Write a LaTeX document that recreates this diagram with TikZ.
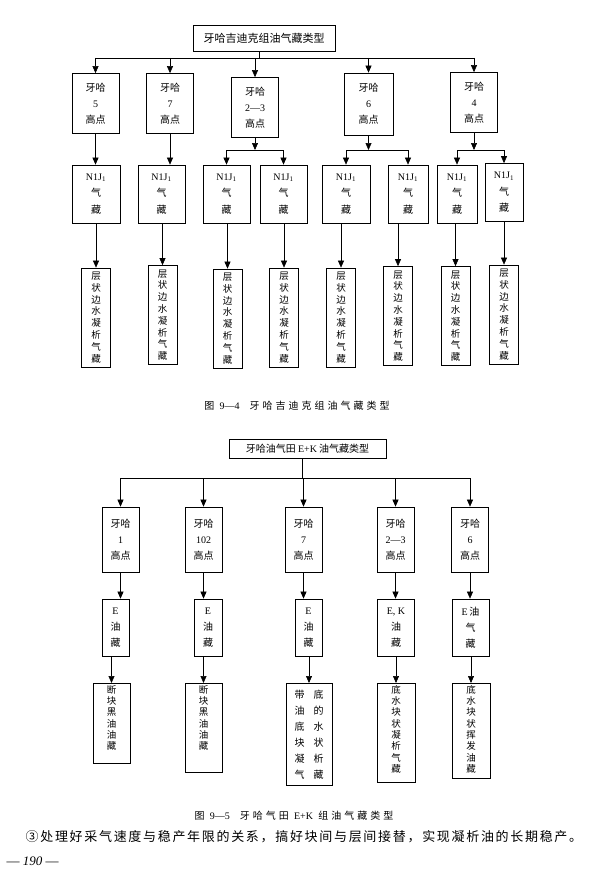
\documentclass[tikz,border=0pt]{standalone}
\usepackage{fontspec}
\setmainfont{Liberation Serif}
\newfontfamily\cjk{Noto Sans CJK SC}
\newfontfamily\cjkwide[LetterSpace=30]{Noto Sans CJK SC}
\newfontfamily\cjkbody[LetterSpace=13]{Noto Sans CJK SC}
\usetikzlibrary{arrows.meta}

\newcommand{\colbox}[3][1.1em]{\parbox[t][#2][t]{#1}{\centering #3}}

\begin{document}
\begin{tikzpicture}[
  x=1pt, y=-1pt, line width=.6pt,
  arr/.style={-{Triangle[width=6pt,length=7pt]}},
  box/.style={draw, line width=.7pt, inner sep=1pt, align=center,
    font=\cjk\fontsize{10}{16}\selectfont},
  high/.style={box, minimum width=47pt, minimum height=60pt},
  gas/.style={box, minimum height=58pt, font=\cjk\fontsize{10}{16.5}\selectfont},
  strip/.style={box, minimum width=29pt, minimum height=99pt,
    font=\cjk\fontsize{9.5}{11.8}\selectfont},
  pool/.style={box, minimum width=37pt, minimum height=65pt},
  oil/.style={box, minimum height=57pt},
  kind/.style={box, anchor=north, inner xsep=0pt, inner ysep=2pt,
    font=\cjk\fontsize{9.5}{11.3}\selectfont}]

  \useasboundingbox (0,0) rectangle (589,883);

  % figure 9-4
  \node[box, minimum width=142pt, minimum height=26pt,
    font=\cjk\fontsize{11}{13}\selectfont] (top) at (264,38) {牙哈吉迪克组油气藏类型};

  \node[high] (h5) at (95.5,103.5) {牙哈\\{\rmfamily 5}\\高点};
  \node[high] (h7) at (170,103.5) {牙哈\\{\rmfamily 7}\\高点};
  \node[high] (h23) at (255,107.5) {牙哈\\{\rmfamily 2—3}\\高点};
  \node[high, minimum width=49pt, minimum height=62pt] (h6) at (368.5,104) {牙哈\\{\rmfamily 6}\\高点};
  \node[high] (h4) at (474,102.5) {牙哈\\{\rmfamily 4}\\高点};

  \foreach \i/\x/\y/\w in {1/96/194/48, 2/161.5/194/47, 3/226.5/194/47, 4/283.5/194/47,
      5/346/194/48, 6/408/194/40, 7/457/194/40, 8/504/192.5/38}
    \node[gas, minimum width=\w pt] (n\i) at (\x,\y) {{\rmfamily N1J\textsubscript{1}}\\气\\藏};

  \foreach \i/\x/\y in {1/96/317.5, 2/162.5/315, 3/227.5/318.5, 4/284/317.5,
      5/341/317.5, 6/398/316, 7/455.5/316, 8/504/314.5}
    \node[strip] (b\i) at (\x,\y) {层\\状\\边\\水\\凝\\析\\气\\藏};

  \coordinate (bus1) at (259,58);
  \coordinate (bar1) at (0,150);
  \draw (bus1 |- top.south) -- (bus1);
  \draw (bus1 -| h5) -- (bus1 -| h4);
  \foreach \n in {h5,h7,h23,h6,h4}
    \draw[arr] (bus1 -| \n) -- (\n);
  \draw[arr] (h5) -- (h5 |- n1.north);
  \draw[arr] (h7) -- (h7 |- n2.north);
  \foreach \p/\a/\b in {h23/n3/n4, h6/n5/n6, h4/n7/n8} {
    \draw[arr] (\p) -- (\p |- bar1);
    \draw (bar1 -| \a) -- (bar1 -| \b);
    \draw[arr] (bar1 -| \a) -- (\a);
    \draw[arr] (bar1 -| \b) -- (\b);
  }
  \foreach \i in {1,...,8}
    \draw[arr] (b\i |- n\i.south) -- (b\i);

  \node[font=\cjkwide\fontsize{10}{12}\selectfont] (cap1) at (297,406)
    {图 {\rmfamily 9—4}\quad 牙哈吉迪克组油气藏类型};

  % figure 9-5
  \node[box, minimum width=157pt, minimum height=19pt] (top2) at (307.5,449)
    {牙哈油气田 {\rmfamily E+K} 油气藏类型};

  \node[pool] (k1) at (120.5,539.5) {牙哈\\{\rmfamily 1}\\高点};
  \node[pool] (k2) at (203.5,539.5) {牙哈\\{\rmfamily 102}\\高点};
  \node[pool] (k3) at (303.5,539.5) {牙哈\\{\rmfamily 7}\\高点};
  \node[pool] (k4) at (395.5,539.5) {牙哈\\{\rmfamily 2—3}\\高点};
  \node[pool] (k5) at (470,539.5) {牙哈\\{\rmfamily 6}\\高点};

  \node[oil, minimum width=27pt] (e1) at (115.5,627.5) {{\rmfamily E}\\油\\藏};
  \node[oil, minimum width=28pt] (e2) at (208,627.5) {{\rmfamily E}\\油\\藏};
  \node[oil, minimum width=27pt] (e3) at (308.5,627.5) {{\rmfamily E}\\油\\藏};
  \node[oil, minimum width=37pt] (e4) at (396,627.5) {{\rmfamily E, K}\\油\\藏};
  \node[oil, minimum width=37pt] (e5) at (470.5,627.5) {{\rmfamily E}\,油\\气\\藏};

  \node[kind, minimum width=37pt] (d1) at (111.5,683) {\colbox{76pt}{断\\块\\黑\\油\\油\\藏}};
  \node[kind, minimum width=37pt] (d2) at (203.5,683) {\colbox{85pt}{断\\块\\黑\\油\\油\\藏}};
  \node[kind, minimum width=46pt, inner ysep=7pt, font=\cjk\fontsize{10}{16}\selectfont] (d3) at (309,683)
    {\colbox[30pt]{88pt}{带\hspace{9pt}底\\油\hspace{9pt}的\\底\hspace{9pt}水\\块\hspace{9pt}状\\凝\hspace{9pt}析\\气\hspace{9pt}藏}};
  \node[kind, minimum width=38pt] (d4) at (396,683) {\colbox{95pt}{底\\水\\块\\状\\凝\\析\\气\\藏}};
  \node[kind, minimum width=38pt] (d5) at (471,683) {\colbox{91pt}{底\\水\\块\\状\\挥\\发\\油\\藏}};

  \coordinate (bus2) at (302,478);
  \draw (bus2 |- top2.south) -- (bus2);
  \draw (bus2 -| k1) -- (bus2 -| k5);
  \foreach \i in {1,...,5} {
    \draw[arr] (bus2 -| k\i) -- (k\i);
    \draw[arr] (k\i) -- (k\i |- e\i.north);
    \draw[arr] (d\i |- e\i.south) -- (d\i.north);
  }

  \node[font=\cjkwide\fontsize{10}{12}\selectfont] (cap2) at (294,816)
    {图 {\rmfamily 9—5}\quad 牙哈气田 {\rmfamily E+K} 组油气藏类型};

  \node[anchor=west, font=\cjkbody\fontsize{13}{15}\selectfont] (para) at (22,837)
    {③处理好采气速度与稳产年限的关系，搞好块间与层间接替，实现凝析油的长期稳产。};
  \node[anchor=west, font=\fontsize{13}{15}\selectfont] (page) at (3,861) {— \textit{190} —};
\end{tikzpicture}
\end{document}
